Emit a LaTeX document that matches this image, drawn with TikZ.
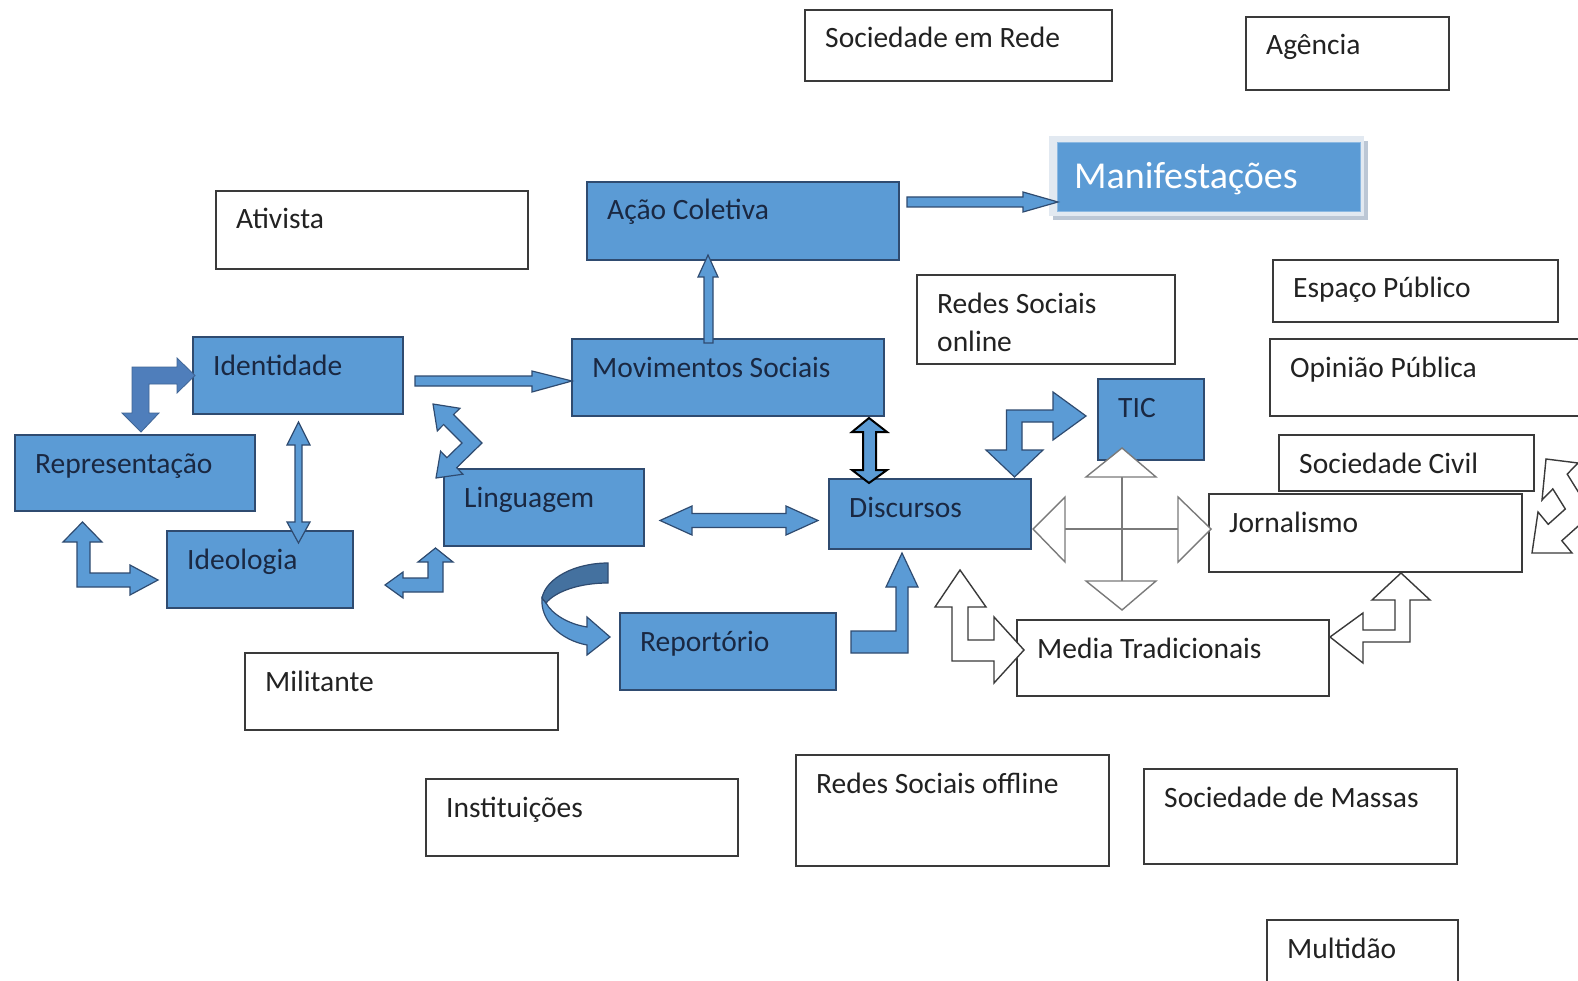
\documentclass[tikz,border=0pt]{standalone}
\usepackage{fontspec}
\setmainfont{Carlito}
\usetikzlibrary{fit}
\definecolor{bfill}{HTML}{5B9BD5}
\definecolor{bline}{HTML}{2F4B70}
\definecolor{btext}{HTML}{1A2842}
\definecolor{wline}{HTML}{3A3A3A}
\definecolor{wtext}{HTML}{222222}
\definecolor{bdark}{HTML}{4F7EBB}
\definecolor{bback}{HTML}{44719F}
\definecolor{glowc}{HTML}{E2E9F1}
\definecolor{shadc}{HTML}{BCC7D5}
\definecolor{crossc}{HTML}{7A7A7A}
\tikzset{
  bluebox/.style={draw=bline, fill=bfill, line width=1.5pt, inner sep=0pt},
  whitebox/.style={draw=wline, fill=white, line width=1.5pt, inner sep=0pt},
  bluetxt/.style={text=btext, inner sep=0pt, font=\fontsize{29.5}{35}\selectfont},
  whitetxt/.style={text=wtext, inner sep=0pt, font=\fontsize{29.5}{35}\selectfont},
  bluearrow/.style={draw=bline, fill=bfill, line width=1.2pt, line join=miter},
  darkarrow/.style={draw=bdark!80!black, fill=bdark, line width=0.8pt, line join=miter},
  blackarrow/.style={draw=black, fill=bfill, line width=2pt, line join=miter},
  whitearrow/.style={draw=wline, fill=white, line width=1.4pt, line join=miter},
  crossline/.style={draw=crossc, line width=1.6pt},
  crosshead/.style={draw=crossc, fill=white, line width=1.4pt, line join=miter},
}
\newcommand\bx[7]{%
  \node[#6box, fit={(#2,#3) (#4,#5)}] (#1) {};
  \node[#6txt, anchor=base west] (#1-t) at (#2+20,#3+38) {#7};}
\begin{document}
\begin{tikzpicture}[x=1pt,y=-1pt]
\useasboundingbox (0,0) rectangle (1578,981);
\fill[white] (0,0) rectangle (1578,981);

% white boxes
\bx{socrede}{805}{10}{1112}{81}{white}{Sociedade em Rede}
\bx{agencia}{1246}{17}{1449}{90}{white}{Agência}
\bx{ativista}{216}{191}{528}{269}{white}{Ativista}
\bx{rso}{917}{275}{1175}{364}{white}{Redes Sociais}
\node[whitetxt, anchor=base west] (rso-t2) at (917+20,275+76) {online};
\bx{espaco}{1273}{260}{1558}{322}{white}{Espaço Público}
\bx{opiniao}{1270}{339}{1600}{416}{white}{Opinião Pública}
\bx{soccivil}{1279}{435}{1534}{491}{white}{Sociedade Civil}
\bx{jorn}{1209}{494}{1522}{572}{white}{Jornalismo}
\bx{media}{1017}{620}{1329}{696}{white}{Media Tradicionais}
\bx{militante}{245}{653}{558}{730}{white}{Militante}
\bx{inst}{426}{779}{738}{856}{white}{Instituições}
\bx{rsoff}{796}{755}{1109}{866}{white}{Redes Sociais offline}
\bx{massas}{1144}{769}{1457}{864}{white}{Sociedade de Massas}
\bx{multidao}{1267}{920}{1458}{1000}{white}{Multidão}

% blue boxes
\bx{acao}{587}{182}{899}{260}{blue}{Ação Coletiva}
\bx{ident}{193}{337}{403}{414}{blue}{Identidade}
\bx{movs}{572}{339}{884}{416}{blue}{Movimentos Sociais}
\bx{tic}{1098}{379}{1204}{460}{blue}{TIC}
\bx{repr}{15}{435}{255}{511}{blue}{Representação}
\bx{ling}{444}{469}{644}{546}{blue}{Linguagem}
\bx{disc}{829}{479}{1031}{549}{blue}{Discursos}
\bx{ideo}{167}{531}{353}{608}{blue}{Ideologia}
\bx{repo}{620}{613}{836}{690}{blue}{Reportório}

% Manifestacoes
\fill[shadc] (1053,141) rectangle (1368,220);
\fill[glowc] (1049,136) rectangle (1364,216);
\node[fill=bfill, draw=bfill!70!white, line width=1pt, inner sep=0pt, fit={(1057,143) (1360,212)}] (manif) {};
\node[text=white, inner sep=0pt, anchor=base west, font=\fontsize{38}{45}\selectfont] (manif-t) at (1074,189) {Manifestações};

% straight arrows
\draw[bluearrow] (415,376) -- (532,376) -- (532,371) -- (572,381) -- (532,392) -- (532,386) -- (415,386) -- cycle;
\draw[bluearrow] (704,343) -- (704,277) -- (698,277) -- (708,255) -- (718,277) -- (713,277) -- (713,343) -- cycle;
\draw[bluearrow] (907,197) -- (1023,197) -- (1023,192) -- (1058,202) -- (1023,212) -- (1023,207) -- (907,207) -- cycle;

% Representacao - Identidade bent arrow
\draw[darkarrow] (132,367) -- (177,367) -- (177,358) -- (195,375.5) -- (177,393) -- (177,384) -- (149,384) -- (149,413) -- (159,413) -- (141,432) -- (122,413) -- (132,413) -- cycle;

% Identidade <-> Ideologia
\draw[bluearrow] (298.5,422) -- (310,445) -- (302,445) -- (302,522) -- (310,522) -- (298.5,543) -- (287,522) -- (295,522) -- (295,445) -- (287,445) -- cycle;

% Representacao <-> Ideologia
\draw[bluearrow] (82.5,522) -- (102,542) -- (90,542) -- (90,573) -- (130,573) -- (130,565) -- (158,580) -- (130,595) -- (130,587) -- (77,587) -- (77,542) -- (63,542) -- cycle;

% Ideologia <-> Linguagem
\draw[bluearrow] (435.5,548) -- (453,562) -- (443,562) -- (443,592) -- (403,592) -- (403,598) -- (385,585) -- (403,572) -- (403,578) -- (428,578) -- (428,562) -- (418,562) -- cycle;

% Identidade <-> Linguagem zigzag
\draw[bluearrow] (433,404) -- (459.9,408.3) -- (453.5,414.6) -- (482,443) -- (456.7,467.7) -- (462.9,474.2) -- (436,478) -- (440.6,451.2) -- (446.9,457.7) -- (462,443) -- (443.6,424.5) -- (437.3,430.9) -- cycle;

% Linguagem <-> Discursos
\draw[bluearrow] (660,520.5) -- (692,506) -- (692,513.5) -- (786,513.5) -- (786,506) -- (818,520.5) -- (786,535) -- (786,527.5) -- (692,527.5) -- (692,535) -- cycle;

% curved arrow Linguagem -> Reportorio
\draw[bluearrow] (542,598) .. controls (540,620) and (560,640) .. (587,645) -- (587,655) -- (610,637) -- (587,617) -- (587,627) .. controls (568,624) and (552,614) .. (546,603) -- cycle;
\draw[bluearrow, fill=bback] (608,563) .. controls (575,563) and (546,578) .. (542,598) -- (546,603) .. controls (556,591) and (580,583) .. (608,583) -- cycle;

% Movimentos <-> Discursos
\draw[blackarrow] (869,418) -- (887,432) -- (876,432) -- (876,470) -- (887,470) -- (869,483) -- (852,470) -- (863,470) -- (863,432) -- (852,432) -- cycle;

% TIC <-> Discursos
\draw[bluearrow] (1006.5,410) -- (1053,410) -- (1053,392) -- (1086,416) -- (1053,440) -- (1053,422) -- (1022,422) -- (1022,450) -- (1043,450) -- (1014.5,477) -- (986,450) -- (1006.5,450) -- cycle;

% Reportorio -> Discursos
\draw[bluearrow] (902,553) -- (918,587) -- (908,587) -- (908,653) -- (851,653) -- (851,631) -- (896,631) -- (896,587) -- (886,587) -- cycle;

% four-way cross
\coordinate (cc) at (1122,529);
\draw[crossline] (1065,529) -- (1178,529);
\draw[crossline] (1122,477) -- (1122,581);
\draw[crosshead] (1033,529) -- (1065,497) -- (1065,562) -- cycle;
\draw[crosshead] (1211,529) -- (1178,497) -- (1178,562) -- cycle;
\draw[crosshead] (1122,448) -- (1156,477) -- (1086,477) -- cycle;
\draw[crosshead] (1122,610) -- (1156,581) -- (1086,581) -- cycle;

% Discursos <-> Media Tradicionais
\draw[whitearrow] (960,570) -- (986,607) -- (968,607) -- (968,640) -- (994,640) -- (994,617) -- (1024,650) -- (994,683) -- (994,661) -- (952,661) -- (952,607) -- (935,607) -- cycle;

% Media Tradicionais <-> Jornalismo
\draw[whitearrow] (1401,573) -- (1430,600) -- (1410,600) -- (1410,642) -- (1363,642) -- (1363,663) -- (1330,637) -- (1363,613) -- (1363,630) -- (1395,630) -- (1395,600) -- (1372,600) -- cycle;

% right edge zigzag
\draw[whitearrow] (1546,459) -- (1578,463) -- (1567.2,474.1) -- (1591.9,513.8) -- (1561.8,540.7) -- (1572,553) -- (1532,553) -- (1538,512) -- (1548.2,524.3) -- (1565.3,509) -- (1552.8,488.9) -- (1542,500) -- cycle;
\end{tikzpicture}
\end{document}
